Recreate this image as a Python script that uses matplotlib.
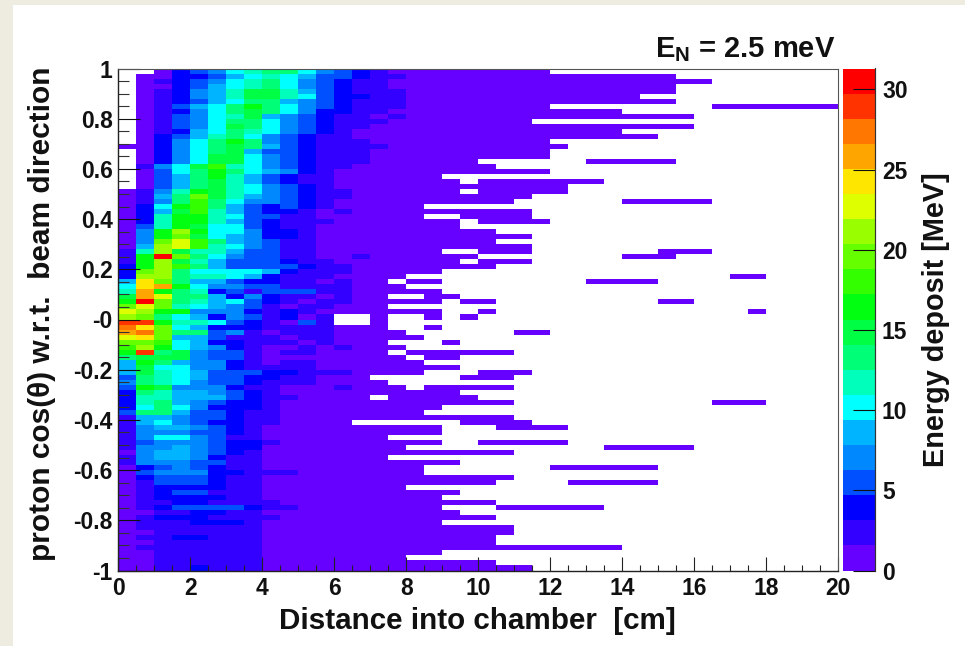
import matplotlib
matplotlib.use("Agg")
import matplotlib.pyplot as plt
from matplotlib.colors import ListedColormap, BoundaryNorm
from matplotlib.patches import Rectangle
from matplotlib.ticker import FixedLocator, NullFormatter
import numpy as np

plt.rcParams['font.family'] = ['Liberation Sans', 'DejaVu Sans']
plt.rcParams['font.weight'] = 'bold'
plt.rcParams['mathtext.fontset'] = 'custom'
plt.rcParams['mathtext.bf'] = 'Liberation Sans:bold'
plt.rcParams['mathtext.rm'] = 'Liberation Sans:bold'

# Colour levels of the palette, bottom to top of the bar
level_colors = ['#6600ff', '#3300ff', '#0000ff', '#0050ff', '#0088ff', '#00b4ff', '#00ffff',
                '#00ffbb', '#00ff77', '#00ff44', '#00ff11', '#33ff00', '#66ff00', '#99ff00',
                '#ddff00', '#ffe600', '#ffa500', '#ff7700', '#ff3300', '#ff0000']
z_max = 31.3
x_edges = np.arange(0, 20.25, 0.5)
y_edges = np.linspace(1, -1, 101)

# Energy level per cell, top row first, first 16 distance bins ('.' = empty)
near_levels = [
    "..02 3467 8864 3210", ".002 2356 7653 3211", ".012 3467 8643 2110", ".002 3567 8643 2110",
    ".012 4579 9753 2111", ".012 4579 9763 2211", ".012 3568 8543 2111", ".013 568a 8643 2111",
    ".012 4689 8642 2110", ".013 4679 5432 1101", ".013 4688 6432 1110", ".013 4698 6432 1100",
    ".012 5687 6432 1000", ".023 5786 4321 1000", ".024 68a8 4321 1100", "0024 6898 5321 1110",
    ".024 6895 3321 1100", ".024 6996 4321 1100", ".024 6996 4321 1100", ".146 9b76 4321 1000",
    ".036 8a86 5421 0000", ".035 8a75 3211 0000", ".035 8975 3211 0000", ".035 8976 4321 0000",
    "0147 a976 4321 1000", "0158 c975 4321 1000", "0148 b864 4321 0000", "026a b853 2321 0000",
    "0259 b753 2210 1000", "027a a763 3110 0000", "027a a753 2111 0000", "037a 9663 2110 0000",
    "04ad a664 2210 0000", "04ac 9654 2210 0000", "04ce b854 3110 0000", "05de b764 3110 0000",
    "17d9 7753 3110 0000", "1ajc 8643 3110 0100", "1ad9 7533 3211 0000", "2adb 8533 3321 1000",
    "2cd8 6666 5211 1000", "2dd8 7765 2111 0000", "5fc8 5532 2110 100.", "6fga 6443 3111 1000",
    "7ga8 7231 3331 1000", "9ge8 8524 2110 100.", "ajc8 7563 2101 1000", "cec7 6543 1011 000.",
    "edaa 4442 1210 0000", "dc86 5243 1201 ..0.", "iia7 7632 1031 ..0.", "hfc6 5222 1111 000.",
    "ghc8 8341 0111 0000", "efc5 5311 1011 0000", "ccb6 5221 1101 000.", "bda6 5421 0010 1000",
    "ai89 4331 0110 000.", "8999 4331 0000 0000", "5a85 4421 0110 0000", "5966 4421 1110 0000",
    "5976 5333 2211 1000", "3876 5332 2110 00..", "4876 4332 1110 000.", "3a94 4421 1000 1000",
    "2875 5432 1000 0000", "2775 5532 1100 00.0", "2785 4322 1000 0000", "2686 4222 1000 0000",
    "3885 3321 1000 0000", "1554 3321 1000 0000", "1564 3221 1000 0...", "1455 4321 0000 0000",
    "1444 3321 0000 0000", "1466 4311 0000 000.", "1344 4322 1000 0000", "1445 4322 0000 0000",
    "0455 4321 0000 0000", "1455 4211 0000 000.", "1444 3311 0000 0000", "0234 3211 0000 0000",
    "0344 4221 1100 0000", "0233 3211 0000 0000", "0133 3211 0000 0000", "0122 2211 0000 0000",
    "0123 3111 0000 0000", "0122 2211 0000 0000", "0112 2111 1000 0000", "0123 3332 1100 0000",
    "0011 2211 0000 0000", "0122 2111 1000 0000", "0111 2221 0000 0000", "0111 1111 0000 0000",
    "0011 1111 0000 0000", "0112 2111 0000 0000", "0011 1111 0000 0000", "0111 1111 0000 0000",
    "0011 1111 0000 0000", "0011 1111 0000 0000", "0011 1111 0000 0000", "0011 2111 0000 0000",
]

# Filled bin ranges beyond bin 16 (lowest level), one entry per row, top row first
far_spans = [
    [(16, 24)], [(16, 31)], [(16, 33)], [(16, 31)], [(16, 31)], [(16, 29)], [(16, 31)],
    [(16, 24), (33, 40)], [(16, 28)], [(16, 32)], [(16, 23)], [(16, 32)], [(16, 28)], [(16, 30)],
    [(16, 24)], [(16, 25)], [(16, 24)], [(16, 24)], [(16, 20), (26, 31)], [(16, 21)], [(16, 24)],
    [(16, 18)], [(16, 19), (20, 27)], [(16, 25)], [(16, 19), (20, 25)], [(16, 23)],
    [(16, 22), (28, 33)], [(16, 17)], [(16, 23)], [(16, 17), (19, 23)], [(16, 19), (20, 24)],
    [(16, 19)], [(16, 21)], [(16, 23)], [(16, 21)], [(16, 23)], [(16, 18), (20, 23), (30, 33)],
    [(16, 20), (28, 31)], [(16, 19), (20, 23)], [(16, 21)], [(16, 18)], [(34, 36)],
    [(16, 18), (26, 30)], [], [(16, 18)], [(17, 19)], [(16, 18), (19, 21), (30, 32)], [],
    [(16, 18), (20, 21), (35, 36)], [(17, 18), (19, 20)], [], [(17, 18)], [(22, 24)], [(16, 17)],
    [(18, 19)], [], [(16, 22)], [(17, 19)], [(16, 17)], [(16, 19)], [(16, 17), (20, 23)],
    [(19, 22)], [], [(17, 22)], [(16, 19)], [(16, 20)], [(16, 22), (33, 36)], [(16, 18)],
    [(16, 17)], [(16, 22)], [(19, 23)], [(16, 18), (21, 25)], [(16, 18)], [],
    [(16, 18), (20, 25)], [(27, 32)], [(16, 22)], [], [(16, 19)], [(16, 17), (24, 30)], [(16, 17)],
    [(16, 22)], [(16, 21), (25, 30)], [], [(16, 19)], [(16, 18)], [(16, 21)], [(16, 18), (21, 27)],
    [(16, 19)], [(16, 21)], [(16, 18)], [(16, 22)], [(16, 22)], [(16, 21)], [(16, 21)], [(16, 28)],
    [(16, 18)], [], [(16, 21)], [(16, 23)],
]

x_tick_values = [0, 2, 4, 6, 8, 10, 12, 14, 16, 18, 20]
y_tick_values = [1, 0.8, 0.6, 0.4, 0.2, 0, -0.2, -0.4, -0.6, -0.8, -1]
y_tick_labels = ['1', '0.8', '0.6', '0.4', '0.2', '-0', '-0.2', '-0.4', '-0.6', '-0.8', '-1']
z_tick_values = [0, 5, 10, 15, 20, 25, 30]

# Cell values from the level table
n_levels = len(level_colors)
level_width = z_max / n_levels
grid = np.full((100, 40), np.nan)
for r, text in enumerate(near_levels):
    for c, ch in enumerate(text.replace(" ", "")):
        if ch != '.':
            grid[r, c] = (int(ch, 36) + 0.5) * level_width
    for a, b in far_spans[r]:
        grid[r, a:b] = 0.5 * level_width

W, H = 965, 646
fig = plt.figure(figsize=(W / 100, H / 100), dpi=100, facecolor='#eeebe1')
fig.add_artist(Rectangle((13 / W, 0), 1 - 13 / W, 1 - 5 / H, transform=fig.transFigure,
                         facecolor='white', edgecolor='none', zorder=-10))

left, right, top, bottom = 118.3, 838.3, 68.5, 570.5
ax = fig.add_axes([left / W, 1 - bottom / H, (right - left) / W, (bottom - top) / H])
cmap = ListedColormap(level_colors)
cmap.set_bad((1, 1, 1, 0))
norm = BoundaryNorm(np.linspace(0, z_max, n_levels + 1), n_levels)
mesh = ax.pcolormesh(x_edges, y_edges, np.ma.masked_invalid(grid), cmap=cmap, norm=norm,
                     antialiased=False, linewidth=0, rasterized=False)
ax.set_xlim(0, 20)
ax.set_ylim(-1, 1)
ax.set_facecolor('white')

px = 72 / 100
tick_size = 16.5
label_color = '#111111'
ax.set_axisbelow(False)
ax.xaxis.set_major_locator(FixedLocator(x_tick_values))
ax.xaxis.set_minor_locator(FixedLocator(np.arange(0, 20.01, 0.5)))
ax.yaxis.set_major_locator(FixedLocator(y_tick_values))
ax.yaxis.set_minor_locator(FixedLocator(np.arange(-1, 1.001, 0.05)))
ax.xaxis.set_minor_formatter(NullFormatter())
ax.yaxis.set_minor_formatter(NullFormatter())
ax.set_xticklabels([str(v) for v in x_tick_values])
ax.set_yticklabels(y_tick_labels)
ax.tick_params(axis='x', which='major', direction='in', length=14 * px, width=1.1 * px, color='#222222',
               labelsize=tick_size, pad=5, labelcolor=label_color)
ax.tick_params(axis='x', which='minor', direction='in', length=6.5 * px, width=1.1 * px, color='#222222')
ax.tick_params(axis='y', which='major', direction='in', length=22 * px, width=1.1 * px, color='#111111',
               labelsize=tick_size, pad=4, labelcolor=label_color)
ax.tick_params(axis='y', which='minor', direction='in', length=11 * px, width=1.1 * px, color='#333333')
for side, sp in ax.spines.items():
    sp.set_linewidth(1.4 * px if side in ('left', 'bottom') else 1.1 * px)
    sp.set_color('#222222' if side in ('left', 'bottom') else '#555555')
    sp.set_zorder(5)
for lab in ax.get_xticklabels() + ax.get_yticklabels():
    lab.set_fontweight('bold')

fig.text(477.5 / W, 1 - 621 / H, 'Distance into chamber  [cm]', ha='center', va='center',
         fontsize=21.3, fontweight='bold', color=label_color)
fig.text(42 / W, 1 - 314 / H, 'proton cos(\u03b8) w.r.t.  beam direction', rotation=90, ha='center',
         va='center', fontsize=21.5, fontweight='bold', color=label_color)
fig.text(835 / W, 1 - 50 / H, r'$\mathbf{E_N}$ = 2.5 meV', ha='right', va='center',
         fontsize=21, fontweight='bold', color=label_color)

cax = fig.add_axes([843 / W, 1 - bottom / H, 32 / W, (bottom - top) / H])
cb = fig.colorbar(mesh, cax=cax, spacing='proportional', ticks=z_tick_values, drawedges=False)
cb.outline.set_visible(False)
cax.yaxis.set_minor_locator(FixedLocator([]))
cax.yaxis.tick_right()
cax.tick_params(axis='y', direction='in', length=22 * px, width=1.1 * px, color='#111111',
                labelsize=tick_size, pad=5, right=True, left=False, labelcolor=label_color)
cax.set_yticklabels([str(v) for v in z_tick_values], fontweight='bold')
cax.spines['right'].set_visible(True)
cax.spines['right'].set_linewidth(1.2 * px)
cax.spines['right'].set_color('#333333')
fig.text(936 / W, 1 - 320 / H, 'Energy deposit [MeV]', rotation=90, ha='center', va='center',
         fontsize=20.8, fontweight='bold', color=label_color)

fig.savefig('out.png', dpi=100, facecolor=fig.get_facecolor())
